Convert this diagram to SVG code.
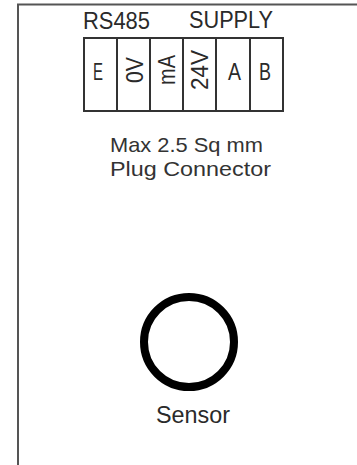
<svg xmlns="http://www.w3.org/2000/svg" width="357" height="465" viewBox="0 0 357 465">
<style>
text{font-family:"Liberation Sans",Arial,sans-serif;font-size:24px;fill:#2a2a2a;text-anchor:start}
.n{font-size:21px;fill:#333}
.l{fill:none;stroke:#333;stroke-width:2}
</style>
<rect width="357" height="465" fill="#fff"/>
<g id="frame"><path d="M357 4.500H18V465" fill="none" stroke="#555" stroke-width="2"/></g>
<g id="headers">
<text x="83" y="28.500" textLength="67" lengthAdjust="spacingAndGlyphs">RS485</text>
<text x="189" y="28" textLength="84" lengthAdjust="spacingAndGlyphs">SUPPLY</text>
</g>
<g id="terminal-block">
<rect class="l" x="84" y="38" width="199" height="73"/>
<path class="l" d="M117 38V111M150 38V111M183 38V111M216 38V111M250 38V111"/>
</g>
<g id="terminal-e"><text x="93" y="80" textLength="10" lengthAdjust="spacingAndGlyphs">E</text></g>
<g id="terminal-0v"><text transform="translate(143 83) rotate(-90)" textLength="26" lengthAdjust="spacingAndGlyphs">0V</text></g>
<g id="terminal-ma"><text transform="translate(175 85) rotate(-90)" textLength="30" lengthAdjust="spacingAndGlyphs">mA</text></g>
<g id="terminal-24v"><text transform="translate(208 90) rotate(-90)" textLength="40" lengthAdjust="spacingAndGlyphs">24V</text></g>
<g id="terminal-a"><text x="228" y="80" textLength="13" lengthAdjust="spacingAndGlyphs">A</text></g>
<g id="terminal-b"><text x="259" y="80" textLength="12" lengthAdjust="spacingAndGlyphs">B</text></g>
<g id="note">
<text class="n" x="110" y="152" textLength="153" lengthAdjust="spacingAndGlyphs">Max 2.5 Sq mm</text>
<text class="n" x="110" y="175.500" textLength="161" lengthAdjust="spacingAndGlyphs">Plug Connector</text>
</g>
<g id="sensor">
<circle cx="189" cy="342" r="45" fill="none" stroke="#000" stroke-width="8"/>
<text x="156" y="423" textLength="74" lengthAdjust="spacingAndGlyphs">Sensor</text>
</g>
</svg>
